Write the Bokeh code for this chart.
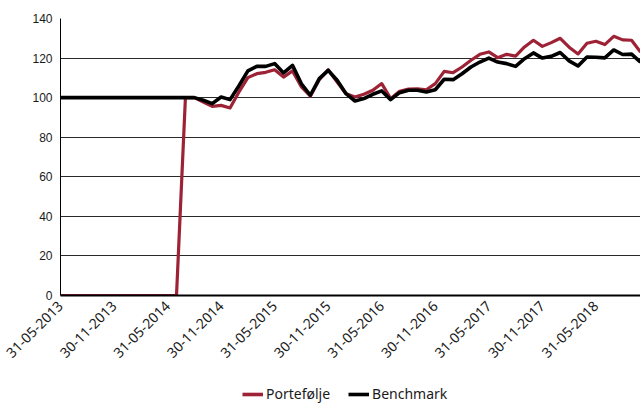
import pandas as pd
from bokeh.plotting import figure
from bokeh.layouts import column
from bokeh.models import Range1d, FixedTicker, Legend, LegendItem
from bokeh.embed import file_html
from bokeh.resources import INLINE
from math import pi

# Monthly observation dates (month ends)
dates = list(pd.date_range("2013-05-31", periods=66, freq="ME").strftime("%d-%m-%Y"))

tick_positions = [0, 6, 12, 18, 24, 30, 36, 42, 48, 54, 60]
tick_labels = ["31-05-2013", "30-11-2013", "31-05-2014", "30-11-2014", "31-05-2015",
               "30-11-2015", "31-05-2016", "30-11-2016", "31-05-2017", "30-11-2017",
               "31-05-2018"]

portefolje = [0, 0, 0, 0, 0, 0, 0, 0, 0, 0, 0, 0, 0, 0,
              100, 100, 97.8, 95.6, 96.1, 94.8, 102.9, 110.1, 112.1, 112.8,
              114.1, 110.4, 113.5, 105.4, 100.7, 109.1, 114.1, 107.9, 102.0, 100.3,
              101.7, 103.7, 107.1, 99.5, 103.2, 104.3, 104.5, 104.0, 107.1, 113.3,
              112.6, 115.5, 118.9, 121.9, 123.1, 120.2, 121.9, 121.0, 125.6, 129.0,
              125.9, 127.8, 130.0, 125.5, 122.1, 127.5, 128.5, 126.8, 131.0, 129.2,
              129.0, 123.0]

benchmark = [100, 100, 100, 100, 100, 100, 100, 100, 100, 100, 100, 100, 100, 100,
             100, 100, 98.7, 97.0, 100.3, 99.0, 106.0, 113.5, 115.8, 115.8,
             117.2, 112.5, 116.3, 107.0, 101.2, 109.6, 113.8, 108.8, 102.0, 98.3,
             99.5, 101.7, 103.4, 99.0, 102.5, 103.7, 103.7, 102.9, 104.0, 109.3,
             109.1, 112.1, 115.5, 118.0, 120.0, 118.0, 117.2, 115.8, 119.7, 122.6,
             120.0, 120.9, 122.8, 118.6, 116.0, 120.5, 120.4, 120.1, 124.1, 121.8,
             122.0, 117.9]

series_names = ["Portefølje", "Benchmark"]
series_colors = ["#9E2235", "#000000"]

y_ticks = [0, 20, 40, 60, 80, 100, 120, 140]

idx = list(range(len(dates)))

p = figure(width=640, height=385, output_backend="svg", toolbar_location=None,
           x_range=Range1d(0, len(dates) - 1), y_range=Range1d(0, 140),
           min_border_left=60, min_border_right=0, min_border_top=18,
           min_border_bottom=90)
p.outline_line_color = None
p.background_fill_color = "white"
p.border_fill_color = "white"

# grid
p.xgrid.grid_line_color = None
p.ygrid.grid_line_color = "#2a2a2a"
p.ygrid.grid_line_width = 1
p.ygrid.ticker = FixedTicker(ticks=y_ticks[1:])

# y axis
p.yaxis.ticker = FixedTicker(ticks=y_ticks)
p.yaxis.axis_line_color = "#000000"
p.yaxis.axis_line_width = 1
p.yaxis.major_tick_line_color = None
p.yaxis.minor_tick_line_color = None
p.yaxis.major_tick_out = 0
p.yaxis.major_label_standoff = 8
p.yaxis.major_label_text_font = "Liberation Sans"
p.yaxis.major_label_text_font_size = "12px"
p.yaxis.major_label_text_color = "#1a1a1a"

# x axis
p.xaxis.ticker = FixedTicker(ticks=tick_positions)
p.xaxis.major_label_overrides = {t: l for t, l in zip(tick_positions, tick_labels)}
p.xaxis.major_label_orientation = pi / 4
p.xaxis.axis_line_color = "#000000"
p.xaxis.axis_line_width = 2
p.xaxis.major_tick_line_color = None
p.xaxis.minor_tick_line_color = None
p.xaxis.major_tick_out = 0
p.xaxis.major_label_standoff = 8
p.xaxis.major_label_text_font = "Noto Sans"
p.xaxis.major_label_text_font_size = "14px"
p.xaxis.major_label_text_color = "#1a1a1a"

p.line(idx, portefolje, line_color=series_colors[0], line_width=3.2, line_join="round")
p.line(idx, benchmark, line_color=series_colors[1], line_width=3.6, line_join="round")

# legend strip below the chart (legend keys reuse the same series, hidden)
pl = figure(width=640, height=18, output_backend="svg", toolbar_location=None,
            x_range=Range1d(0, len(dates) - 1), y_range=Range1d(0, 140),
            min_border_left=0, min_border_right=0, min_border_top=0,
            min_border_bottom=0)
pl.axis.visible = False
pl.grid.visible = False
pl.outline_line_color = None
pl.border_fill_color = "white"
pl.background_fill_color = "white"
l1 = pl.line(idx, portefolje, line_color=series_colors[0], line_width=3.6, visible=False)
l2 = pl.line(idx, benchmark, line_color=series_colors[1], line_width=3.6, visible=False)

legend = Legend(items=[LegendItem(label=series_names[0], renderers=[l1]),
                       LegendItem(label=series_names[1], renderers=[l2])],
                location=(182, 0), orientation="horizontal")
legend.glyph_width = 21
legend.glyph_height = 14
legend.label_standoff = 3
legend.spacing = 18
legend.padding = 0
legend.margin = 0
legend.border_line_color = None
legend.background_fill_alpha = 0
legend.inactive_fill_alpha = 0
legend.label_text_font = "Noto Sans"
legend.label_text_font_size = "14px"
legend.label_text_color = "#1a1a1a"
legend.label_height = 16
pl.add_layout(legend, "center")

layout = column(p, pl, spacing=0)

open("out.html", "w").write(file_html(layout, INLINE))
